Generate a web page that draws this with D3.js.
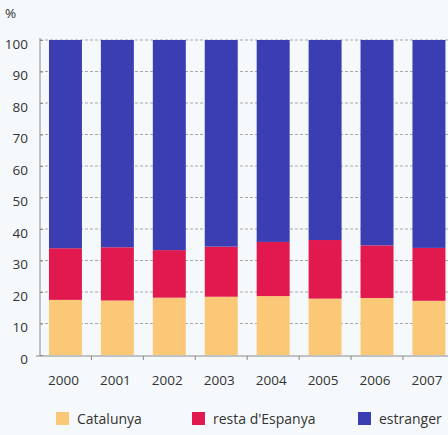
<!DOCTYPE html>
<html><head><meta charset="utf-8">
<script src="https://cdn.jsdelivr.net/npm/d3@7"></script>
<style>body{margin:0;background:#f6f9fb;}svg{display:block;}</style>
</head><body><svg id="c" width="448" height="435"></svg>
<script>
const years = ["2000","2001","2002","2003","2004","2005","2006","2007"];
const catalunya = [17.5, 17.3, 18.2, 18.5, 18.7, 17.9, 18.1, 17.2];
const restaEspanya = [16.4, 16.9, 15.1, 15.9, 17.2, 18.6, 16.7, 16.8];
const estranger = [66.1, 65.8, 66.7, 65.6, 64.1, 63.5, 65.2, 66.0];
const seriesNames = ["Catalunya", "resta d'Espanya", "estranger"];
const colors = ["#fbc877", "#e2194f", "#3b3db2"];
const yTicks = [0,10,20,30,40,50,60,70,80,90,100];

const svg = d3.select("#c");
const font = "'Open Sans', sans-serif";
const x = d3.scaleBand().domain(years).range([39.1, 455.3]).paddingInner(0.365).paddingOuter(0.19);
const y = d3.scaleLinear().domain([0,100]).range([355, 40]);

const rows = years.map((yr,i)=>({year:yr, "Catalunya":catalunya[i], "resta d'Espanya":restaEspanya[i], "estranger":estranger[i]}));
const stack = d3.stack().keys(seriesNames)(rows);

// gridlines
svg.append("g").selectAll("line").data(yTicks.filter(d=>d>0)).join("line")
  .attr("x1",40).attr("x2",448).attr("y1",d=>y(d)).attr("y2",d=>y(d))
  .attr("stroke","#a8a8a8").attr("stroke-width",1).attr("stroke-dasharray","3,2");

// bars
svg.append("g").selectAll("g").data(stack).join("g").attr("fill",(d,i)=>colors[i])
  .selectAll("rect").data(d=>d).join("rect")
  .attr("x",d=>x(d.data.year)).attr("width",x.bandwidth())
  .attr("y",d=>y(d[1])).attr("height",d=>y(d[0])-y(d[1]));

// y axis
const yAxis = svg.append("g").attr("transform","translate(40,0)")
  .call(d3.axisLeft(y).tickValues(yTicks).tickSize(4).tickSizeOuter(0).tickPadding(8));
yAxis.select(".domain").attr("stroke","#888").attr("d","M0,38V356");
yAxis.selectAll(".tick line").attr("stroke","#888").attr("x2",3);
yAxis.selectAll(".tick text").attr("font-family",font).attr("font-size",13.5).attr("fill","#333").attr("dy","0.6em");

// x axis
const xAxis = svg.append("g").attr("transform","translate(0,356)")
  .call(d3.axisBottom(x).tickSize(0).tickPadding(19));
xAxis.select(".domain").attr("stroke","#888").attr("d","M36,0H448");
xAxis.selectAll(".tick text").attr("font-family",font).attr("font-size",13.5).attr("fill","#333").attr("dx",-2);
const gap = x.step()-x.bandwidth();
svg.append("g").selectAll("line").data(years.slice(1)).join("line")
  .attr("x1",d=>x(d)-gap/2).attr("x2",d=>x(d)-gap/2).attr("y1",356).attr("y2",360)
  .attr("stroke","#888");

// % label
svg.append("text").attr("x",5).attr("y",18).text("%")
  .attr("font-family",font).attr("font-size",13.5).attr("fill","#333");

// legend
const legX = [56, 192, 358];
const leg = svg.append("g").selectAll("g").data(seriesNames).join("g")
  .attr("transform",(d,i)=>`translate(${legX[i]},412)`);
leg.append("rect").attr("width",13).attr("height",13).attr("fill",(d,i)=>colors[i]);
leg.append("text").attr("x",21).attr("y",11.5).text(d=>d)
  .attr("font-family",font).attr("font-size",14).attr("fill","#333");
</script></body></html>
